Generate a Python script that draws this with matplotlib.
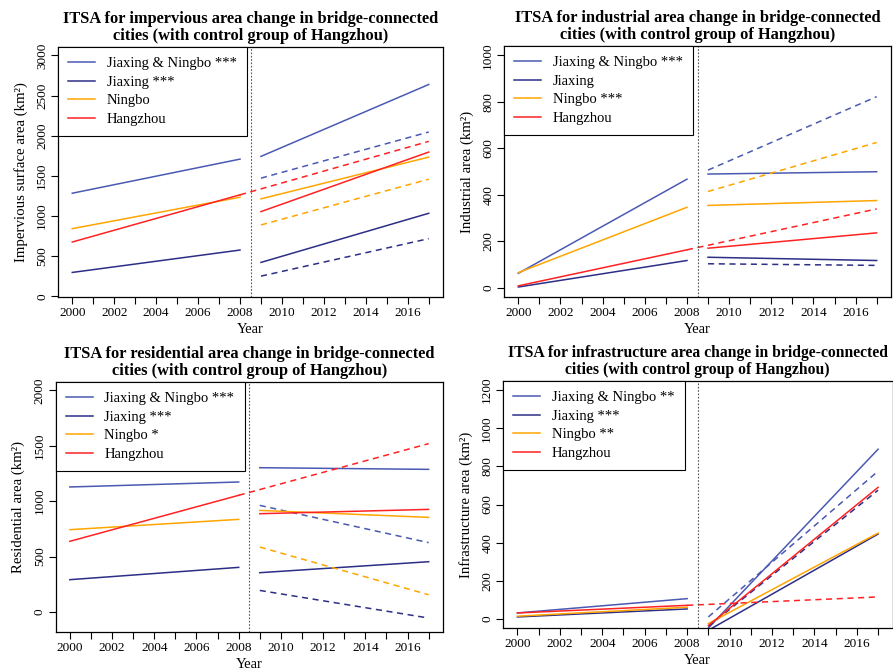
import matplotlib
matplotlib.use("Agg")
import matplotlib.pyplot as plt
from matplotlib.lines import Line2D

plt.rcParams['font.family'] = ['Liberation Serif', 'DejaVu Serif']

# x positions of the fitted segments
pre_years = [2000, 2008]
post_years = [2009, 2017]
hz_cf_years = [2008, 2017]  # Hangzhou counterfactual continues its pre-trend

# series order: Jiaxing & Ningbo, Jiaxing, Ningbo, Hangzhou
colors = ["#4a5ab2", "#2d2e86", "#ffa500", "#ff2222"]

# impervious area (start, end) of each segment
imp_pre = [[1283, 1708], [296, 575], [842, 1233], [675, 1263]]
imp_post = [[1742, 2638], [421, 1033], [1213, 1733], [1054, 1796]]
imp_cf = [[1471, 2046], [250, 717], [888, 1458], [1263, 1929]]
imp_labels = ["Jiaxing & Ningbo ***", "Jiaxing ***", "Ningbo", "Hangzhou"]

# industrial area
ind_pre = [[62, 467], [3, 117], [65, 346], [8, 163]]
ind_post = [[489, 499], [131, 117], [354, 375], [170, 236]]
ind_cf = [[506, 822], [103, 96], [414, 625], [163, 339]]
ind_labels = ["Jiaxing & Ningbo ***", "Jiaxing", "Ningbo ***", "Hangzhou"]

# residential area
res_pre = [[1128, 1173], [292, 403], [743, 836], [638, 1053]]
res_post = [[1302, 1287], [355, 454], [917, 854], [887, 926]]
res_cf = [[962, 626], [195, -54], [586, 156], [1053, 1519]]
res_labels = ["Jiaxing & Ningbo ***", "Jiaxing ***", "Ningbo *", "Hangzhou"]

# infrastructure area
inf_pre = [[31, 106], [10, 52], [14, 61], [31, 71]]
inf_post = [[-48, 890], [-60, 445], [-25, 450], [-35, 690]]
inf_cf = [[10, 775], [-40, 675], None, [71, 115]]
inf_labels = ["Jiaxing & Ningbo **", "Jiaxing ***", "Ningbo **", "Hangzhou"]

W, H = 893, 671
fig = plt.figure(figsize=(W / 100, H / 100), dpi=100)


def make_axes(left, top, right, bottom):
    return fig.add_axes([left / W, 1 - bottom / H, (right - left) / W, (bottom - top) / H])


def draw_panel(ax, pre, post, cf, labels, title, ylabel, ylim, yticks, title_size=11.8):
    for i in range(4):
        ax.plot(pre_years, pre[i], color=colors[i], lw=1.1)
        ax.plot(post_years, post[i], color=colors[i], lw=1.1)
        if cf[i] is not None:
            cx = hz_cf_years if i == 3 else post_years
            ax.plot(cx, cf[i], color=colors[i], lw=1.1, linestyle=(0, (4, 3)))
    ax.axvline(2008.5, color="#555555", lw=0.8, linestyle=(0, (1.5, 1.5)))
    ax.set_xlim(1999.32, 2017.68)
    ax.set_ylim(*ylim)
    ax.set_xticks(range(2000, 2018))
    ax.set_xticklabels([str(y) if y % 2 == 0 else "" for y in range(2000, 2018)])
    ax.set_yticks(yticks)
    ax.tick_params(direction="out", length=5, width=0.8, labelsize=9.5, pad=2)
    for lab in ax.get_yticklabels():
        lab.set_rotation(90)
        lab.set_va("center")
    for s in ax.spines.values():
        s.set_linewidth(0.9)
    ax.set_xlabel("Year", fontsize=10.5, labelpad=3)
    ax.set_ylabel(ylabel, fontsize=10.7, labelpad=6)
    ax.set_title(title, fontsize=title_size, fontweight="bold", pad=5, linespacing=1.1)
    handles = [Line2D([], [], color=c, lw=1.1) for c in colors]
    leg = ax.legend(handles, labels, loc="upper left", borderaxespad=0, fancybox=False,
                    edgecolor="black", framealpha=1, fontsize=10.5, handlelength=1.85,
                    handletextpad=0.8, labelspacing=0.36, borderpad=0.7)
    leg.get_frame().set_linewidth(0.8)


ax1 = make_axes(58, 47, 443, 297)
draw_panel(ax1, imp_pre, imp_post, imp_cf, imp_labels,
           "ITSA for impervious area change in bridge-connected\ncities (with control group of Hangzhou)",
           "Impervious surface area (km²)", (-10, 3105), range(0, 3001, 500))

ax2 = make_axes(504, 46, 891, 297)
draw_panel(ax2, ind_pre, ind_post, ind_cf, ind_labels,
           "ITSA for industrial area change in bridge-connected\ncities (with control group of Hangzhou)",
           "Industrial area (km²)", (-40, 1040), range(0, 1001, 200))

ax3 = make_axes(55.5, 382, 443, 632)
draw_panel(ax3, res_pre, res_post, res_cf, res_labels,
           "ITSA for residential area change in bridge-connected\ncities (with control group of Hangzhou)",
           "Residential area (km²)", (-180, 2075), range(0, 2001, 500))

ax4 = make_axes(503, 381, 892.5, 628)
draw_panel(ax4, inf_pre, inf_post, inf_cf, inf_labels,
           "ITSA for infrastructure area change in bridge-connected\ncities (with control group of Hangzhou)",
           "Infrastructure area (km²)", (-48, 1248), range(0, 1201, 200), title_size=11.3)

fig.savefig("out.png", dpi=100)
